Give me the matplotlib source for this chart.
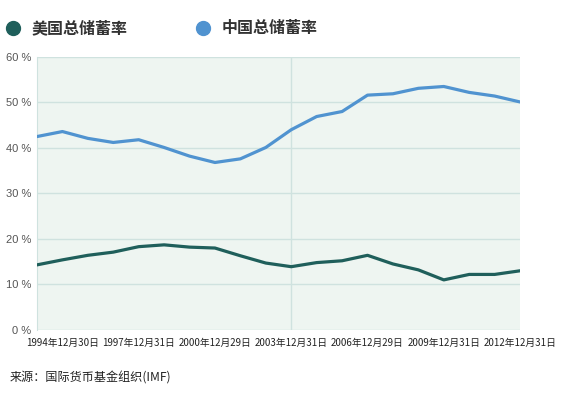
import matplotlib
matplotlib.use('Agg')
import matplotlib.pyplot as plt
from matplotlib.lines import Line2D

# Datos: tasa de ahorro bruto (% del PIB), fin de año 1993-2012
years = list(range(1993, 2013))
usa = [14.3, 15.4, 16.4, 17.1, 18.3, 18.7, 18.2, 18.0, 16.3, 14.7,
       13.9, 14.8, 15.2, 16.4, 14.5, 13.2, 11.0, 12.2, 12.2, 13.0]
china = [42.5, 43.6, 42.1, 41.2, 41.8, 40.1, 38.2, 36.8, 37.6, 40.1,
         44.0, 46.9, 48.0, 51.6, 51.9, 53.1, 53.5, 52.2, 51.4, 50.1]
tick_years = [1994, 1997, 2000, 2003, 2006, 2009, 2012]
tick_labels = ['1994年12月30日', '1997年12月31日', '2000年12月29日', '2003年12月31日',
               '2006年12月29日', '2009年12月31日', '2012年12月31日']
yticks = [0, 10, 20, 30, 40, 50, 60]

col_usa = '#1f5f5b'
col_china = '#5093d0'
cjk = ['Noto Sans CJK SC', 'DejaVu Sans']

fig = plt.figure(figsize=(5.69, 3.98), dpi=100)
ax = fig.add_axes([0.065, 0.171, 0.849, 0.686])
ax.set_facecolor('#eef5f1')

ax.plot(years, usa, color=col_usa, lw=2.3, solid_capstyle='round', zorder=3)
ax.plot(years, china, color=col_china, lw=2.3, solid_capstyle='round', zorder=3)

ax.set_xlim(years[0], years[-1])
ax.set_ylim(0, 60)
ax.set_yticks(yticks)
ax.set_yticklabels([f'{v} %' for v in yticks], fontsize=8, color='#555555',
                   family='Liberation Sans')
ax.set_xticks(tick_years)
ax.set_xticklabels(tick_labels, fontsize=7, color='#222222', family=cjk)
ax.tick_params(length=0, pad=4)
ax.tick_params(axis='x', pad=6)

for v in yticks:
    ax.axhline(v, color='#cfe2df', lw=1, zorder=1)
ax.axvline(2003, color='#cfe2df', lw=1, zorder=1)
for s in ax.spines.values():
    s.set_visible(False)
ax.spines['left'].set_visible(True)
ax.spines['left'].set_color('#cfe2df')

# Leyenda
W, H = 569, 398
for cx, col, name in [(13, col_usa, '美国总储蓄率'), (203, col_china, '中国总储蓄率')]:
    fig.add_artist(Line2D([cx / W], [1 - 28 / H], marker='o', markersize=10,
                          color=col, transform=fig.transFigure))
    fig.text((cx + 19) / W, 1 - 28 / H, name, fontsize=11.5, fontweight='bold',
             color='#333333', family=cjk, va='center', ha='left')

fig.text(10 / W, 1 - 378 / H, '来源：国际货币基金组织(IMF)', fontsize=8.7,
         color='#222222', family=cjk, va='center', ha='left')

fig.savefig('out.png', dpi=100)
